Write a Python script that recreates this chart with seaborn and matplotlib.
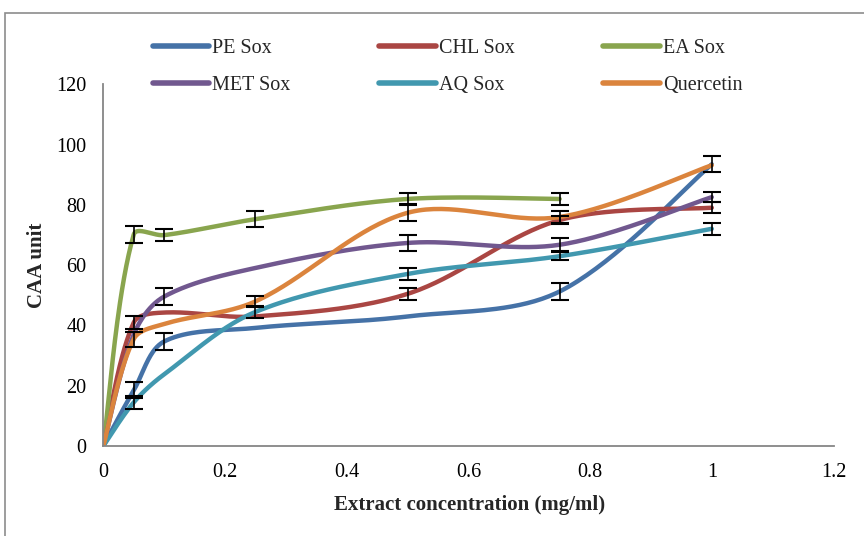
import numpy as np
import pandas as pd
import matplotlib
matplotlib.use("Agg")
import matplotlib.pyplot as plt
from matplotlib.lines import Line2D
from matplotlib.patches import Rectangle
import seaborn as sns

# Extract concentrations (mg/ml)
conc = [0, 0.05, 0.1, 0.25, 0.5, 0.75, 1.0]

series_names = ["PE Sox", "CHL Sox", "EA Sox", "MET Sox", "AQ Sox", "Quercetin"]

# CAA unit means per extract
pe_sox = [0, 18.5, 34.7, 39.2, 43.0, 51.3, 93.5]
chl_sox = [0, 41.0, 44.3, 43.0, 50.5, 75.0, 79.1]
ea_sox = [0, 70.2, 70.0, 75.3, 82.0, 82.0]
met_sox = [0, 37.0, 49.6, 59.1, 67.4, 66.8, 82.6]
aq_sox = [0, 14.5, 23.8, 44.5, 57.1, 63.0, 72.1]
quercetin = [0, 35.5, 40.5, 48.0, 77.4, 76.0, 93.2]

# Standard deviations (nan = no bar shown)
nan = np.nan
pe_err = [nan, 2.6, 2.8, nan, nan, 2.8, 2.7]
chl_err = [nan, 2.2, nan, nan, 2.0, 1.2, 1.8]
ea_err = [nan, 2.8, 2.0, 2.6, 2.0, 2.0]
met_err = [nan, nan, 2.8, nan, 2.8, 2.2, 1.7]
aq_err = [nan, 2.1, nan, 2.0, 2.0, 1.4, 2.0]
q_err = [nan, 2.5, nan, 1.7, 2.8, 2.0, nan]

values = [pe_sox, chl_sox, ea_sox, met_sox, aq_sox, quercetin]
errors = [pe_err, chl_err, ea_err, met_err, aq_err, q_err]
colors = ["#4572A7", "#AA4643", "#89A54E", "#71588F", "#4198AF", "#DB843D"]

XLIM = (0, 1.2)
YLIM = (0, 120)
AX_PX = (730.2, 361.5)  # plotting area size in pixels, for screen-space smoothing


def smooth(xs, ys, n=40):
    """Chord-weighted Bezier smoothing computed in screen space."""
    sx = AX_PX[0] / (XLIM[1] - XLIM[0])
    sy = AX_PX[1] / (YLIM[1] - YLIM[0])
    p = np.column_stack([np.asarray(xs) * sx, np.asarray(ys) * sy]).astype(float)
    m = len(p)
    d = np.linalg.norm(np.diff(p, axis=0), axis=1)
    out = [p[0]]
    t = np.linspace(0, 1, n)[1:, None]
    for i in range(m - 1):
        # outgoing control at p[i]
        if i > 0:
            tan = p[i + 1] - p[i - 1]
            c1 = p[i] + tan * d[i] / (3.0 * (d[i - 1] + d[i]))
        else:
            c1 = p[i] + (p[i + 1] - p[i]) / 6.0
        # incoming control at p[i+1]
        if i + 2 < m:
            tan = p[i + 2] - p[i]
            c2 = p[i + 1] - tan * d[i] / (3.0 * (d[i] + d[i + 1]))
        else:
            c2 = p[i + 1] - (p[i + 1] - p[i]) / 6.0
        seg = ((1 - t) ** 3) * p[i] + 3 * ((1 - t) ** 2) * t * c1 \
            + 3 * (1 - t) * t ** 2 * c2 + t ** 3 * p[i + 1]
        out.extend(seg)
    out = np.array(out)
    return np.column_stack([out[:, 0] / sx, out[:, 1] / sy])


frames = []
for name, vals in zip(series_names, values):
    xs = conc[:len(vals)]
    curve = smooth(xs, vals)
    frames.append(pd.DataFrame({"x": curve[:, 0], "y": curve[:, 1],
                                "series": name}))
df = pd.concat(frames, ignore_index=True)

sns.set_style("white")
plt.rcParams["font.family"] = ["Liberation Serif", "DejaVu Serif"]

fig = plt.figure(figsize=(8.64, 5.36), dpi=100)
ax = fig.add_axes([0.1196, 0.1679, 0.8451, 0.6745])

sns.lineplot(data=df, x="x", y="y", hue="series", hue_order=series_names,
             palette=colors, estimator=None, sort=False, units="series",
             linewidth=3.2, legend=False, ax=ax, solid_capstyle="round")

for name, vals, err in zip(series_names, values, errors):
    xs = np.array(conc[:len(vals)])
    v = np.array(vals, dtype=float)
    e = np.array(err, dtype=float)
    mask = ~np.isnan(e)
    ax.errorbar(xs[mask], v[mask], yerr=e[mask], fmt="none", ecolor="black",
                elinewidth=1.2, capsize=6.5, capthick=1.5, zorder=5)

ax.set_xlim(*XLIM)
ax.set_ylim(*YLIM)
ax.set_xticks([0, 0.2, 0.4, 0.6, 0.8, 1.0, 1.2])
ax.set_xticklabels(["0", "0.2", "0.4", "0.6", "0.8", "1", "1.2"])
ax.set_yticks(np.arange(0, 121, 20))
ax.set_yticklabels([str(v) for v in range(0, 121, 20)])

for side in ["top", "right"]:
    ax.spines[side].set_visible(False)
for side in ["left", "bottom"]:
    ax.spines[side].set_color("#868686")
    ax.spines[side].set_linewidth(1.3)

ax.tick_params(axis="both", direction="out", length=5, width=1.1,
               color="#868686", labelsize=14.5, labelcolor="black", pad=7)

ax.set_xlabel("Extract concentration (mg/ml)", fontsize=15, fontweight="bold",
              va="center")
ax.set_ylabel("CAA unit", fontsize=15, fontweight="bold", va="center",
              ha="center")
ax.xaxis.set_label_coords(0.502, -0.163)
ax.yaxis.set_label_coords(-0.091, 0.50)

# legend laid out row-wise: PE, CHL, EA / MET, AQ, Quercetin
order = [0, 3, 1, 4, 2, 5]
handles = [Line2D([0], [0], color=colors[i], lw=4.0, solid_capstyle="round")
           for i in order]
labels = [series_names[i] for i in order]
fig.legend(handles, labels, loc="center", bbox_to_anchor=(0.518, 0.875),
           ncol=3, frameon=False, fontsize=14.5, handlelength=2.8,
           handletextpad=0.15, columnspacing=4.4, labelspacing=0.85)

# chart-area border
fig.add_artist(Rectangle((5 / 864, -0.1), 1.2, 0.1 + 1 - 13 / 536,
                         transform=fig.transFigure, fill=False,
                         edgecolor="#8c8c8c", linewidth=1.2, clip_on=False))

fig.savefig("out.png", dpi=100)
